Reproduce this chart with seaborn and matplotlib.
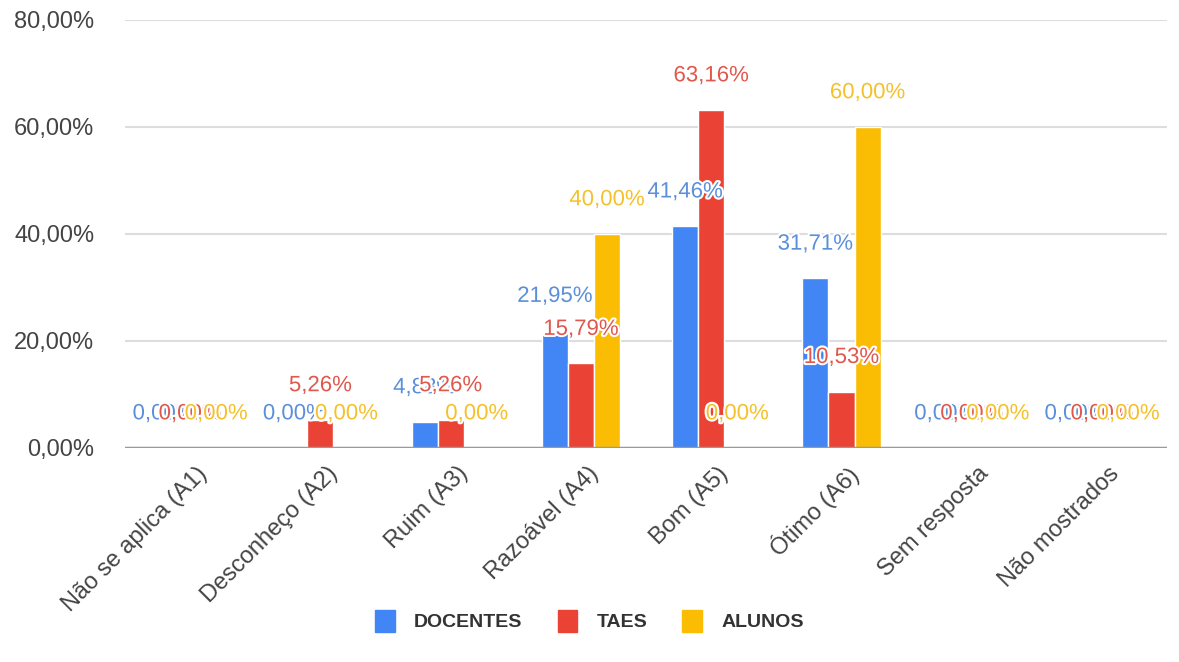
import matplotlib
matplotlib.use("Agg")
import matplotlib.pyplot as plt
import matplotlib.patheffects as pe
from matplotlib.transforms import ScaledTranslation
from matplotlib.ticker import FuncFormatter
import seaborn as sns
import pandas as pd

# Dados
categorias = ["Não se aplica (A1)", "Desconheço (A2)", "Ruim (A3)", "Razoável (A4)",
              "Bom (A5)", "Ótimo (A6)", "Sem resposta", "Não mostrados"]
series = ["DOCENTES", "TAES", "ALUNOS"]
docentes = [0.00, 0.00, 4.88, 21.95, 41.46, 31.71, 0.00, 0.00]
taes = [0.00, 5.26, 5.26, 15.79, 63.16, 10.53, 0.00, 0.00]
alunos = [0.00, 0.00, 0.00, 40.00, 0.00, 60.00, 0.00, 0.00]

cores = ["#4285F4", "#EA4335", "#FBBC04"]
cores_rotulo = ["#5b8fd9", "#e0584d", "#f5c12a"]

df = pd.DataFrame({
    "Categoria": categorias * 3,
    "Grupo": [s for s in series for _ in categorias],
    "Valor": docentes + taes + alunos,
})

sns.set_style("white")
plt.rcParams["font.family"] = ["Liberation Sans", "DejaVu Sans"]

fig = plt.figure(figsize=(11.79, 6.62), dpi=100)
ax = fig.add_axes([0.106, 0.3233, 0.884, 0.6467])

sns.barplot(data=df, x="Categoria", y="Valor", hue="Grupo", order=categorias,
            hue_order=series, palette=cores, saturation=1, width=0.6, ax=ax,
            legend=True)

ax.set_ylim(0, 80)
ax.set_xlim(-0.5, 7.5)
ax.set_yticks([0, 20, 40, 60, 80])
ax.yaxis.set_major_formatter(FuncFormatter(lambda v, p: f"{v:.2f}%".replace(".", ",")))
ax.grid(axis="y", color="#dddddd", linewidth=1.5)
ax.set_axisbelow(True)
ax.axhline(0, color="#9a9a9a", linewidth=2.5, zorder=1)
for s in ax.spines.values():
    s.set_visible(False)
ax.tick_params(axis="y", length=0, pad=22, labelsize=17, labelcolor="#444444")
ax.tick_params(axis="x", length=0, pad=8, labelsize=17, labelcolor="#444444")
ax.set_xlabel("")
ax.set_ylabel("")

for lbl in ax.get_xticklabels():
    lbl.set_rotation(45)
    lbl.set_ha("right")
    lbl.set_va("center")
    lbl.set_rotation_mode("anchor")
    lbl.set_transform(lbl.get_transform() + ScaledTranslation(10 / 72, -8 / 72, fig.dpi_scale_trans))

# rótulos de valores
for cont, cor in zip(ax.containers, cores_rotulo):
    textos = ax.bar_label(cont, labels=[f"{b.get_height():.2f}%".replace(".", ",") for b in cont],
                          padding=17, color=cor, fontsize=16)
    for t in textos:
        t.set_path_effects([pe.withStroke(linewidth=3, foreground="white")])

ax.legend_.remove()
handles = [plt.Rectangle((0, 0), 1, 1, color=c) for c in cores]
fig.legend(handles, series, loc="center", bbox_to_anchor=(0.5, 0.062), ncol=3,
           frameon=False, handlelength=1.0, handleheight=1.3, handletextpad=1.0,
           columnspacing=1.8, prop={"size": 14, "weight": "bold"}, labelcolor="#333333")

fig.savefig("out.png", dpi=100)
